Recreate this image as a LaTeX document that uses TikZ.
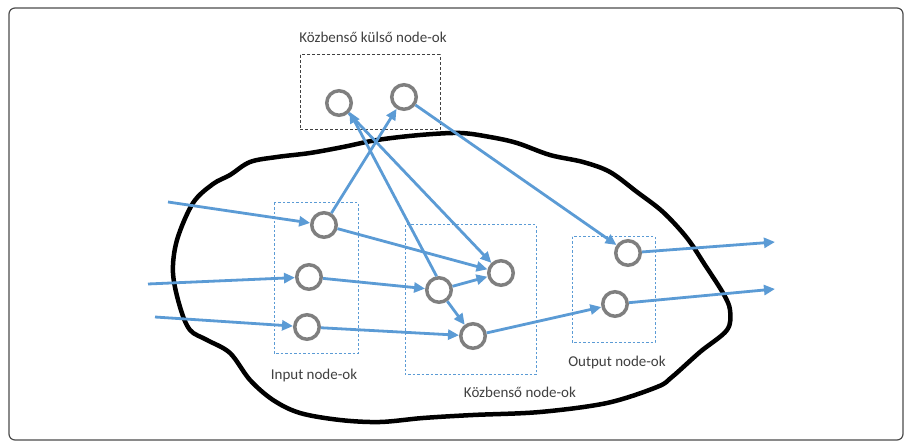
\documentclass[tikz,border=0pt]{standalone}
\usepackage{fontspec}
\setmainfont{Carlito}
\usetikzlibrary{arrows.meta}
\definecolor{arrowblue}{HTML}{5B9BD5}
\definecolor{ringgray}{HTML}{7F7F7F}
\definecolor{txtgray}{HTML}{404040}
\begin{document}
\begin{tikzpicture}[x=1pt,y=-1pt,
  ring/.style={circle,draw=ringgray,line width=3.5pt,minimum size=24.5pt,inner sep=0pt,fill=white},
  flow/.style={draw=arrowblue,line width=2.8pt,-{Triangle[length=11pt,width=10pt]}},
  grpbox/.style={draw=arrowblue,dash pattern=on 2.5pt off 2pt,line width=1pt},
  extbox/.style={draw=black!75,dash pattern=on 3pt off 2pt,line width=1pt},
  lbl/.style={text=txtgray,font=\fontsize{15}{17}\selectfont,inner sep=0pt},
  blob/.style={draw=black,line width=4.5pt,line join=round}]
\useasboundingbox (0,0) rectangle (911,446);
\fill[white] (0,0) rectangle (911,446);
\draw[rounded corners=6pt,draw=black!70,line width=1.2pt] (9,8) rectangle (903,440);

% group boxes
\draw[extbox] (300,55) rectangle (440,130);
\draw[grpbox] (274,203) rectangle (358,354);
\draw[grpbox] (405,225) rectangle (536,375);
\draw[grpbox] (572,237) rectangle (655,343);

% labels
\node[lbl] (lext) at (373,37) {Közbenső külső node-ok};
\node[lbl] (lin) at (314,376) {Input node-ok};
\node[lbl] (lmid) at (520,392) {Közbenső node-ok};
\node[lbl] (lout) at (617,363) {Output node-ok};

% system boundary
\draw[blob] plot[smooth cycle,tension=0.55] coordinates {
 (193,203) (213,184) (230,175) (250,162) (277,157) (310,153) (343,147)
 (377,140) (420,135) (460,133) (490,137) (517,143) (550,155) (583,162)
 (610,172) (637,192) (663,212) (687,238) (705,265) (723,293) (730,310)
 (727,330) (700,352) (672,377) (657,387) (607,403) (540,412) (473,415)
 (423,418) (380,422) (340,420) (300,413) (273,400) (250,380) (230,353)
 (207,340) (190,330) (180,307) (173,273) (177,240)};

% nodes
\node[ring] (E1) at (339,103) {};
\node[ring] (E2) at (404,97) {};
\node[ring] (I1) at (324,225) {};
\node[ring] (I2) at (309,277) {};
\node[ring] (I3) at (307,327) {};
\node[ring] (M1) at (501,273) {};
\node[ring] (M2) at (439,290) {};
\node[ring] (M3) at (473,336) {};
\node[ring] (O1) at (628,253) {};
\node[ring] (O2) at (615,304) {};

% free ends
\coordinate (in1) at (168,202);
\coordinate (in2) at (148,284);
\coordinate (in3) at (155,317);
\coordinate (out1) at (775,242);
\coordinate (out2) at (775,289);

% connectors
\draw[flow] (in1) -- (I1);
\draw[flow] (in2) -- (I2);
\draw[flow] (in3) -- (I3);
\draw[flow] (I1) -- (E2);
\draw[flow] (I1) -- (M1);
\draw[flow] (I2) -- (M2);
\draw[flow] (I3) -- (M3);
\draw[flow] (M2.100) -- (E1.-40);
\draw[flow] (E1) -- (M1);
\draw[flow] (E2) -- (O1);
\draw[flow] (M2) -- (M1);
\draw[flow] (M2) -- (M3);
\draw[flow] (M3) -- (O2);
\draw[flow] (O1) -- (out1);
\draw[flow] (O2) -- (out2);
\end{tikzpicture}
\end{document}
